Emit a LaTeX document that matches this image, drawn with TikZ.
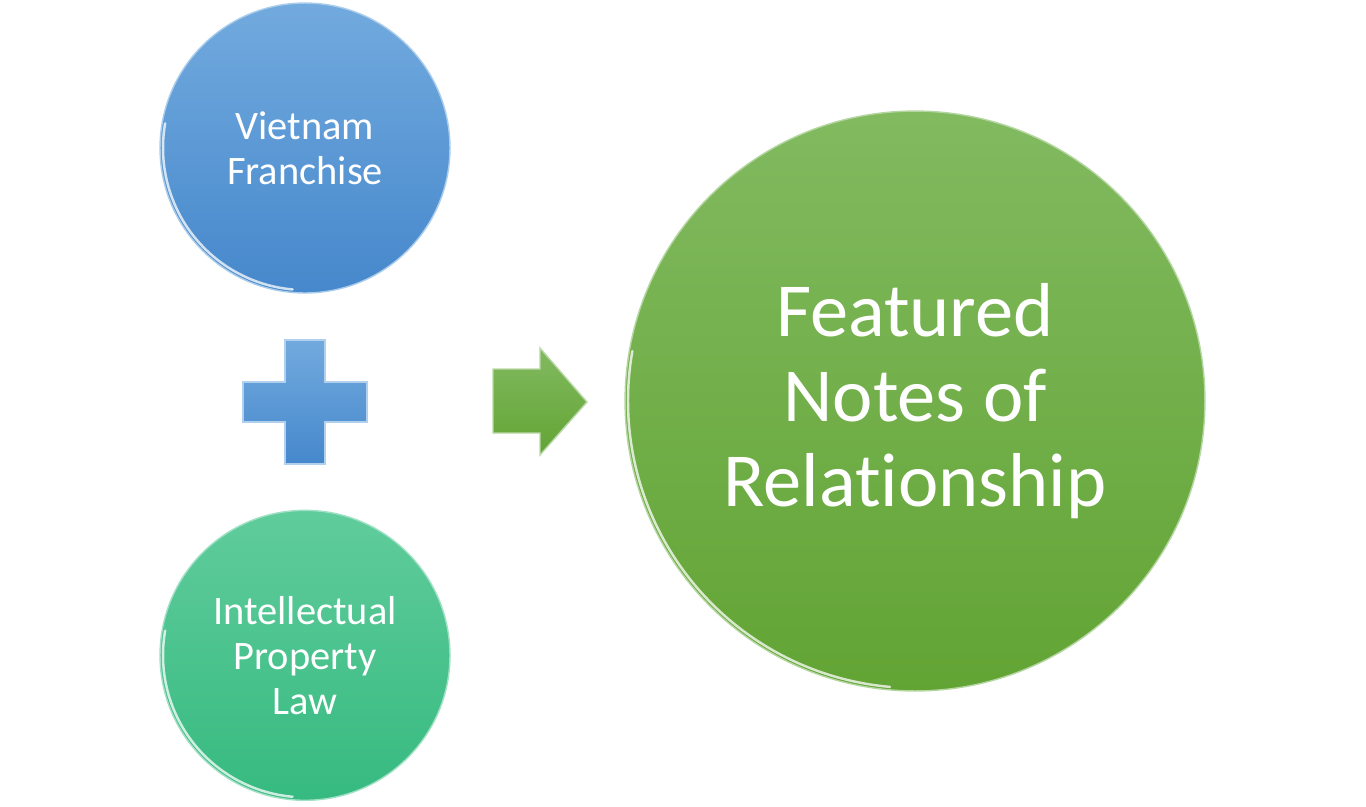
\documentclass[tikz,border=0pt]{standalone}
\usepackage{fontspec}
\setmainfont{Carlito}[Ligatures=CommonOff]
\usetikzlibrary{positioning,calc}

\definecolor{blueTop}{RGB}{114,170,222}
\definecolor{blueBot}{RGB}{70,136,204}
\definecolor{tealTop}{RGB}{96,204,156}
\definecolor{tealBot}{RGB}{54,186,128}
\definecolor{greenTop}{RGB}{130,186,96}
\definecolor{greenBot}{RGB}{98,164,52}

\begin{document}
\begin{tikzpicture}[
  x=0.02cm, y=-0.02cm,
  ball/.style={circle, inner sep=0pt, align=center, text=white,
               minimum size=5.8cm, line width=0.8pt,
               font=\fontsize{23}{25.5}\selectfont},
  bigball/.style={ball, minimum size=11.6cm,
                  font=\fontsize{43.5}{48.5}\selectfont},
  rim/.style={white, opacity=0.75, line width=1.4pt, line cap=round},
  bevel/.style={line width=0.8pt, line join=miter},
]
\fill[white] (0,0) rectangle (1366,806);
\useasboundingbox (0,0) rectangle (1366,806);

% ---------- the two inputs ----------
\node[ball, top color=blueTop, bottom color=blueBot, draw=blueTop!60!white]
  (vf) at (305,148) {Vietnam\\Franchise};
\node[ball, top color=tealTop, bottom color=tealBot, draw=tealTop!60!white,
      below=4.32cm of vf] (ip) {Intellectual\\Property\\Law};

% ---------- result ----------
\node[bigball, top color=greenTop, bottom color=greenBot, draw=greenTop!60!white]
  (fn) at (915,401) {Featured\\Notes of\\Relationship};

% glossy rims
\draw[rim] (vf.center) ++(95:142) arc[start angle=95, end angle=190, radius=142];
\draw[rim] (ip.center) ++(95:142) arc[start angle=95, end angle=190, radius=142];
\draw[rim] (fn.center) ++(95:287) arc[start angle=95, end angle=190, radius=287];

% ---------- plus sign ----------
\draw[bevel, top color=blueTop, bottom color=blueBot, draw=blueTop!55!white]
  (285,340) -- (325,340) -- (325,382) -- (367,382) -- (367,422) -- (325,422)
  -- (325,464) -- (285,464) -- (285,422) -- (243,422) -- (243,382) -- (285,382)
  -- cycle;

% ---------- arrow ----------
\draw[bevel, top color=greenTop, bottom color=greenBot, draw=greenTop!55!white]
  (493,369) -- (540,369) -- (540,348) -- (587,402) -- (540,455) -- (540,433)
  -- (493,433) -- cycle;

\end{tikzpicture}
\end{document}
